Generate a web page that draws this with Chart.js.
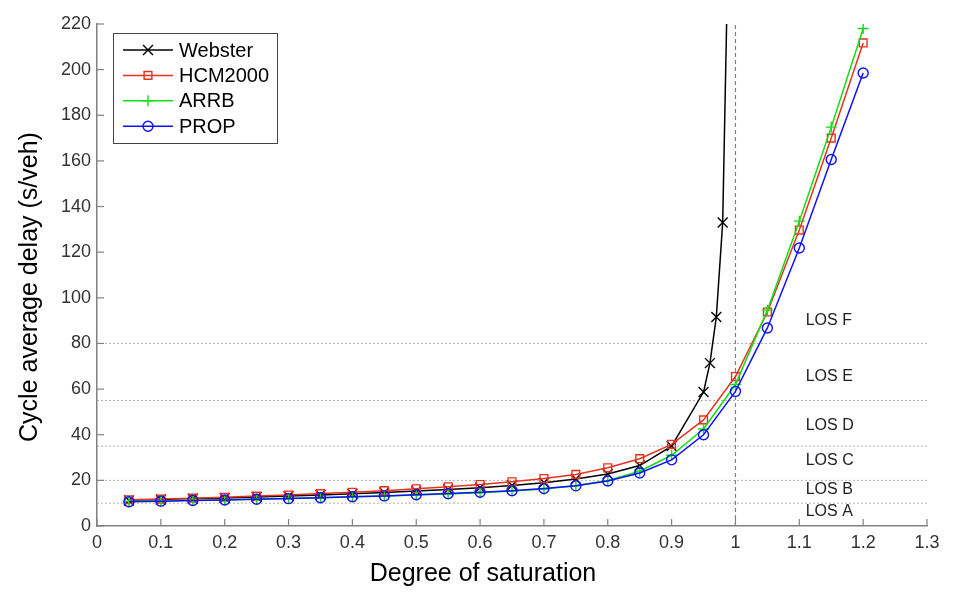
<!DOCTYPE html>
<html><head><meta charset="utf-8">
<script src="https://cdn.jsdelivr.net/npm/chart.js@4.4.0/dist/chart.umd.min.js"></script>
<style>html,body{margin:0;padding:0;background:#fff}#wrap{width:958px;height:602px;position:relative}</style>
</head><body><div id="wrap"><canvas id="c"></canvas></div>
<script>
// ---- data ----
const xCommon = [0.05,0.1,0.15,0.2,0.25,0.3,0.35,0.4,0.45,0.5,0.55,0.6,0.65,0.7,0.75,0.8,0.85,0.9,0.95,1.0,1.05,1.1,1.15,1.2];
const xWebster = [0.05,0.1,0.15,0.2,0.25,0.3,0.35,0.4,0.45,0.5,0.55,0.6,0.65,0.7,0.75,0.8,0.85,0.9,0.95,0.96,0.97,0.98,0.99];
const webster = [11.2,11.6,12.0,12.3,12.7,13.1,13.6,14.1,14.7,15.3,16.0,16.8,17.8,19.0,20.6,22.8,26.5,35.0,58.7,71.4,91.6,133,275];
const hcm2000 = [11.5,11.8,12.2,12.6,13.1,13.6,14.2,14.8,15.5,16.3,17.2,18.2,19.4,20.8,22.6,25.5,29.5,35.8,46.5,65.5,93.8,129.7,170,211.7];
const arrb = [10.8,11.0,11.3,11.5,11.8,12.1,12.4,12.8,13.2,13.6,14.0,14.6,15.3,16.2,17.6,19.9,24.0,31.0,42.5,62.0,94.6,133.6,174.8,218];
const prop = [10.6,10.9,11.2,11.4,11.7,12.0,12.4,12.8,13.2,13.7,14.2,14.8,15.5,16.4,17.6,19.7,23.2,29.0,40.0,59.0,86.8,121.8,160.6,198.5];
const seriesNames = ['Webster','HCM2000','ARRB','PROP'];
const losLevels = [10,20,35,55,80];
const losLabels = ['LOS A','LOS B','LOS C','LOS D','LOS E','LOS F'];
const losLabelValues = [6.5,16,28.5,44,65.5,90];
const losLabelX = 1.11;
const capacityX = 1.0;
const xTickLabels = ['0','0.1','0.2','0.3','0.4','0.5','0.6','0.7','0.8','0.9','1','1.1','1.2','1.3'];
const yTickLabels = ['0','20','40','60','80','100','120','140','160','180','200','220'];
const xTitle = 'Degree of saturation';
const yTitle = 'Cycle average delay (s/veh)';

const xMin = parseFloat(xTickLabels[0]), xMax = parseFloat(xTickLabels[xTickLabels.length-1]);
const yMin = parseFloat(yTickLabels[0]), yMax = parseFloat(yTickLabels[yTickLabels.length-1]);
const pts = (xs, ys) => ys.map((y,i)=>({x:xs[i], y}));
const FONT = "'Liberation Sans', Arial, sans-serif";
const AXIS = '#808080';

const styles = [
  {color:'#000000', pointStyle:'crossRot', radius:7},
  {color:'#e8321e', pointStyle:'rect', radius:5.5},
  {color:'#12e012', pointStyle:'cross', radius:5.5},
  {color:'#1010ff', pointStyle:'circle', radius:5}
];
const seriesData = [pts(xWebster, webster), pts(xCommon, hcm2000), pts(xCommon, arrb), pts(xCommon, prop)];

const datasets = seriesNames.map((name,i)=>({
  label: name, data: seriesData[i], borderColor: styles[i].color, backgroundColor:'rgba(0,0,0,0)',
  borderWidth:1.5, pointStyle: styles[i].pointStyle, pointRadius: styles[i].radius,
  pointBorderColor: styles[i].color, pointBorderWidth:1.4, pointBackgroundColor:'rgba(0,0,0,0)',
  tension:0, order: 4-i
}));
losLevels.forEach(v=>datasets.push({
  label:'los', data:[{x:xMin,y:v},{x:xMax,y:v}], borderColor:'#b0b0b0', borderWidth:1,
  borderDash:[2,2], pointRadius:0, order:10
}));
datasets.push({label:'cap', data:[{x:capacityX,y:yMin},{x:capacityX,y:yMax}], borderColor:'#808080',
  borderWidth:1.2, borderDash:[4,3], pointRadius:0, order:9});

function drawMarker(ctx, style, x, y, r){
  ctx.beginPath();
  if(style==='circle'){ ctx.arc(x,y,r,0,Math.PI*2); }
  else if(style==='rect'){ const s=r*Math.SQRT1_2; ctx.rect(x-s,y-s,2*s,2*s); }
  else if(style==='cross'){ ctx.moveTo(x-r,y); ctx.lineTo(x+r,y); ctx.moveTo(x,y-r); ctx.lineTo(x,y+r); }
  else if(style==='crossRot'){ const s=r*Math.SQRT1_2; ctx.moveTo(x-s,y-s); ctx.lineTo(x+s,y+s); ctx.moveTo(x+s,y-s); ctx.lineTo(x-s,y+s); }
  ctx.stroke();
}

const extras = {
  id:'extras',
  afterDraw(chart){
    const ctx = chart.ctx, xs = chart.scales.x, ys = chart.scales.y, ca = chart.chartArea;
    ctx.save();
    // inward tick marks
    ctx.strokeStyle = AXIS; ctx.lineWidth = 1.2;
    xTickLabels.forEach(t=>{ const px = xs.getPixelForValue(parseFloat(t)); ctx.beginPath(); ctx.moveTo(px, ca.bottom); ctx.lineTo(px, ca.bottom-7); ctx.stroke(); });
    yTickLabels.forEach(t=>{ const py = ys.getPixelForValue(parseFloat(t)); ctx.beginPath(); ctx.moveTo(ca.left, py); ctx.lineTo(ca.left+7, py); ctx.stroke(); });
    // LOS labels
    ctx.fillStyle = '#222'; ctx.font = '16px ' + FONT; ctx.textAlign = 'left'; ctx.textBaseline = 'middle';
    losLabels.forEach((lab,i)=>{
      ctx.fillText(lab, xs.getPixelForValue(losLabelX), ys.getPixelForValue(losLabelValues[i]));
    });
    // axis titles
    ctx.fillStyle = '#000'; ctx.font = '25px ' + FONT; ctx.textAlign = 'center'; ctx.textBaseline = 'middle';
    ctx.fillText(xTitle, 483, 574);
    ctx.save(); ctx.translate(30, 287); ctx.rotate(-Math.PI/2); ctx.fillText(yTitle, 0, 0); ctx.restore();
    // legend
    const bx = ca.left + 16, by = ca.top + 9, bw = 164, bh = 110;
    ctx.fillStyle = '#fff'; ctx.fillRect(bx, by, bw, bh);
    ctx.strokeStyle = '#444'; ctx.lineWidth = 1; ctx.strokeRect(bx+0.5, by+0.5, bw, bh);
    ctx.font = '20px ' + FONT; ctx.textAlign = 'left'; ctx.textBaseline = 'middle';
    seriesNames.forEach((name,i)=>{
      const cy = by + 17 + i*25.4;
      ctx.strokeStyle = styles[i].color; ctx.lineWidth = 1.5;
      ctx.beginPath(); ctx.moveTo(bx+10, cy); ctx.lineTo(bx+60, cy); ctx.stroke();
      ctx.lineWidth = 1.4;
      drawMarker(ctx, styles[i].pointStyle, bx+35, cy, styles[i].radius);
      ctx.fillStyle = '#000'; ctx.fillText(name, bx+66, cy+1);
    });
    ctx.restore();
  }
};

new Chart(document.getElementById('c'), {
  type:'line',
  data:{datasets},
  plugins:[extras],
  options:{
    responsive:true, maintainAspectRatio:false, animation:false,
    layout:{padding:{top:24,right:31,left:0,bottom:0}},
    plugins:{legend:{display:false}, tooltip:{enabled:false}},
    elements:{line:{fill:false}},
    scales:{
      x:{type:'linear', min:xMin, max:xMax,
        afterBuildTicks: s=>{ s.ticks = xTickLabels.map(t=>({value:parseFloat(t)})); },
        afterFit: s=>{ s.height = 76; },
        ticks:{padding:6, color:'#333', font:{family:FONT, size:18}, maxRotation:0, autoSkip:false,
          callback:(v,i)=>xTickLabels[i]},
        grid:{display:false, drawTicks:false},
        border:{display:true, color:AXIS, width:1.5}
      },
      y:{type:'linear', min:yMin, max:yMax,
        afterBuildTicks: s=>{ s.ticks = yTickLabels.map(t=>({value:parseFloat(t)})); },
        afterFit: s=>{ s.width = 97; },
        ticks:{padding:6, color:'#333', font:{family:FONT, size:18}, autoSkip:false,
          callback:(v,i)=>yTickLabels[i]},
        grid:{display:false, drawTicks:false},
        border:{display:true, color:AXIS, width:1.5}
      }
    }
  }
});
</script>
</body></html>
